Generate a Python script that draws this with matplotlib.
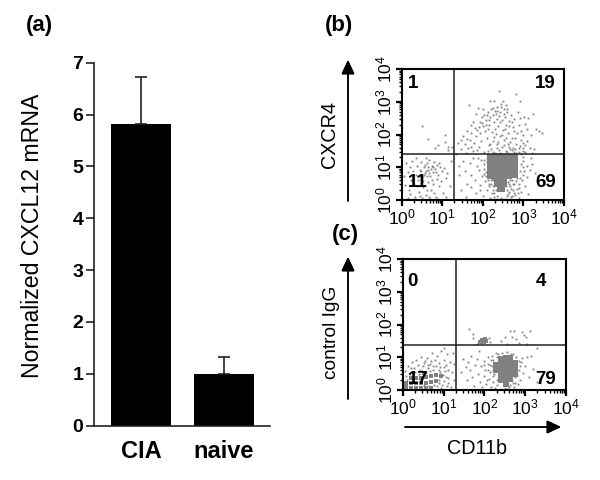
#!/usr/bin/env python3

# bar chart of CXCL12 mRNA plus two flow cytometry dot plots

import matplotlib.pyplot as plt
import numpy as np

plt.rcParams["font.family"] = ["Liberation Sans", "DejaVu Sans"]
plt.rcParams["mathtext.fontset"] = "custom"
plt.rcParams["mathtext.rm"] = "Liberation Sans"

W, H = 600, 480
color_dot = "#808080"

# panel (a)
categories = ["CIA", "naive"]
values = [5.82, 1.0]
errors = [0.90, 0.32]
bar_ticks = [0, 1, 2, 3, 4, 5, 6, 7]

# panel (b), dots as [log10 CD11b, log10 CXCR4]
b_upper = np.array([
    [0.49, 2.28], [0.66, 1.86], [0.82, 1.58], [0.90, 1.68], [1.07, 2.00], [1.15, 1.63], [1.15, 1.53],
    [1.07, 1.79], [1.23, 1.61], [1.34, 1.42], [1.38, 1.75], [1.45, 1.55], [1.47, 1.85], [1.52, 1.95],
    [1.55, 1.70], [1.58, 1.45], [1.60, 2.10], [1.63, 1.60], [1.66, 2.91], [1.68, 1.85], [1.70, 2.30],
    [1.72, 2.05], [1.75, 1.50], [1.78, 1.75], [1.80, 2.20], [1.82, 2.62], [1.84, 1.95], [1.86, 2.15],
    [1.88, 2.83], [1.90, 1.62], [1.92, 2.40], [1.94, 2.05], [1.96, 1.80], [1.98, 2.55], [2.00, 2.80],
    [2.00, 2.25], [2.02, 1.48], [2.04, 2.60], [2.06, 2.12], [2.08, 2.45], [2.10, 1.90], [2.12, 2.70],
    [2.14, 1.68], [2.15, 2.30], [2.17, 3.03], [2.18, 2.55], [2.20, 1.55], [2.22, 2.08], [2.24, 2.82],
    [2.25, 1.80], [2.27, 3.03], [2.28, 2.40], [2.30, 1.45], [2.32, 2.62], [2.33, 2.02], [2.35, 2.85],
    [2.36, 1.70], [2.38, 2.25], [2.39, 3.34], [2.40, 1.52], [2.42, 2.70], [2.43, 1.95], [2.45, 2.95],
    [2.46, 2.45], [2.48, 1.62], [2.50, 3.03], [2.50, 2.15], [2.52, 2.78], [2.53, 1.85], [2.55, 2.55],
    [2.57, 1.50], [2.58, 2.30], [2.60, 2.68], [2.62, 1.72], [2.63, 2.05], [2.65, 2.42], [2.67, 1.55],
    [2.70, 2.60], [2.72, 1.90], [2.74, 2.22], [2.76, 1.48], [2.78, 2.48], [2.81, 3.24], [2.82, 1.70],
    [2.84, 2.05], [2.86, 2.70], [2.88, 1.58], [2.90, 2.30], [2.91, 3.03], [2.93, 1.85], [2.95, 2.10],
    [2.98, 1.50], [3.00, 1.98], [3.02, 2.55], [3.05, 1.68], [3.08, 2.18], [3.10, 1.82], [3.12, 2.50],
    [3.15, 1.60], [3.18, 2.00], [3.20, 1.45], [3.23, 2.62], [3.26, 1.55], [3.32, 2.18], [3.38, 2.12],
    [3.45, 2.05], [2.40, 2.58], [2.30, 2.72], [2.20, 2.78], [2.10, 2.60], [2.60, 2.80], [2.55, 1.42],
    [2.70, 1.42], [2.82, 1.45], [2.95, 1.42], [3.05, 1.48], [2.75, 1.60], [2.65, 1.62], [2.45, 1.42],
    [2.25, 1.46], [2.35, 1.58], [2.42, 1.44], [2.52, 1.68], [2.60, 1.46], [2.72, 1.52], [2.80, 1.56],
    [2.88, 1.46], [2.92, 1.66], [3.00, 1.60], [2.12, 1.50], [2.18, 1.70], [2.28, 1.92], [2.38, 1.78],
    [2.46, 1.98], [2.58, 1.90], [2.68, 1.78], [2.80, 1.90], [2.98, 1.74], [1.70, 1.62], [1.85, 1.52],
    [2.08, 2.30], [2.16, 2.46], [2.26, 2.60], [2.34, 2.48], [2.42, 2.38], [2.52, 2.64], [2.64, 2.28],
    [2.72, 2.40], [2.35, 2.72], [2.44, 2.84], [2.56, 2.92], [1.98, 2.36], [1.76, 2.38], [1.62, 1.88],
    [2.92, 2.50], [3.05, 2.32], [2.78, 2.12], [2.55, 2.18], [2.30, 2.16], [2.12, 2.18], [1.90, 2.24],
])
b_lower_left = np.array([
    [0.05, 0.72], [0.08, 0.45], [0.10, 1.12], [0.15, 0.85], [0.18, 0.30], [0.20, 1.02], [0.22, 0.62],
    [0.25, 1.20], [0.28, 0.90], [0.30, 0.48], [0.32, 0.10], [0.35, 0.78], [0.38, 1.05], [0.40, 0.60],
    [0.42, 0.25], [0.45, 0.92], [0.48, 1.15], [0.50, 0.70], [0.52, 0.40], [0.55, 1.00], [0.58, 0.82],
    [0.60, 0.15], [0.62, 1.12], [0.64, 0.55], [0.66, 0.92], [0.68, 1.22], [0.70, 0.72], [0.72, 0.32],
    [0.74, 1.05], [0.76, 0.85], [0.78, 0.50], [0.80, 1.15], [0.82, 0.95], [0.84, 0.08], [0.86, 0.65],
    [0.88, 1.08], [0.90, 0.78], [0.92, 0.42], [0.95, 1.00], [0.98, 0.58], [1.00, 0.88], [1.02, 0.22],
    [1.05, 0.98], [1.08, 0.68], [1.12, 0.82], [1.18, 0.42], [1.22, 1.20], [0.50, 0.05], [0.70, 0.02],
    [0.90, 0.03], [0.30, 0.02], [1.10, 0.10], [0.60, 1.28], [0.35, 1.30], [0.58, 1.08], [0.65, 1.02],
    [0.72, 0.95], [0.68, 0.82], [0.78, 1.02], [0.60, 0.90], [0.55, 0.78], [0.48, 0.88], [0.42, 0.74],
    [0.62, 0.72], [0.75, 0.62], [0.85, 0.85], [0.92, 1.12], [0.52, 0.58], [0.38, 0.42], [0.28, 0.62],
    [0.20, 0.18], [0.62, 0.30], [0.80, 0.22], [0.68, 0.10], [0.15, 0.05], [0.45, 0.12],
])
b_lower_right = np.array([
    [1.40, 1.05], [1.42, 0.75], [1.45, 0.30], [1.50, 1.20], [1.55, 0.88], [1.58, 0.08], [1.62, 0.50],
    [1.68, 1.12], [1.72, 0.78], [1.75, 1.28], [1.80, 0.62], [1.82, 0.20], [1.85, 1.05], [1.90, 0.92],
    [1.92, 0.45], [1.95, 1.22], [1.98, 0.72], [2.00, 0.12], [2.02, 1.10], [2.05, 0.58], [2.08, 0.85],
    [2.10, 0.30], [2.12, 1.02], [2.15, 0.48], [2.18, 0.05], [2.20, 0.62], [2.22, 0.22], [2.25, 0.42],
    [2.28, 0.10], [2.30, 0.55], [2.32, 0.32], [2.35, 0.02], [2.62, 0.55], [2.65, 0.25], [2.68, 0.42],
    [2.70, 0.08], [2.72, 0.60], [2.75, 0.30], [2.78, 0.48], [2.80, 0.15], [2.82, 0.58], [2.85, 0.35],
    [2.88, 0.05], [2.90, 0.50], [2.92, 0.68], [2.95, 0.25], [2.98, 0.78], [3.00, 1.20], [3.02, 0.90],
    [3.05, 0.42], [3.08, 1.05], [3.10, 0.70], [3.12, 0.18], [3.15, 0.92], [3.18, 1.28], [3.22, 1.10],
    [3.28, 0.82], [2.10, 1.30], [1.70, 0.40], [2.55, 0.02], [2.45, 0.05], [2.60, 0.12], [2.02, 0.95],
    [2.04, 1.22], [2.08, 0.72], [2.10, 1.15], [2.12, 0.62], [2.14, 0.85], [2.16, 0.42], [2.18, 0.70],
    [2.20, 0.50], [2.24, 0.60], [2.26, 0.32], [2.28, 0.20], [2.32, 0.48], [2.34, 0.12], [2.58, 0.42],
    [2.60, 0.30], [2.62, 0.18], [2.64, 0.48], [2.66, 0.60], [2.70, 0.35], [2.74, 0.50], [2.76, 0.20],
    [2.84, 0.68], [2.90, 0.38], [2.92, 0.88], [2.94, 1.10], [2.96, 0.60], [2.98, 1.00], [3.00, 1.32],
    [2.04, 0.80], [1.88, 1.30], [1.92, 0.30], [2.86, 0.22], [2.72, 0.12],
])
# the solid part of the cloud, drawn with bigger squares
b_blob = np.array([
    [2.20, 0.78], [2.20, 0.98], [2.20, 1.18], [2.20, 1.30], [2.33, 0.72], [2.33, 0.92], [2.33, 1.12],
    [2.33, 1.30], [2.48, 0.72], [2.48, 0.92], [2.48, 1.12], [2.48, 1.30], [2.62, 0.78], [2.62, 0.98],
    [2.62, 1.18], [2.62, 1.30], [2.76, 0.80], [2.76, 1.00], [2.76, 1.18], [2.76, 1.30], [2.38, 0.52],
    [2.50, 0.52], [2.44, 0.36],
])

# panel (c), dots as [log10 CD11b, log10 control IgG]
c_upper = np.array([
    [1.62, 1.86], [1.72, 1.70], [1.72, 1.58], [1.82, 1.42], [1.90, 1.46], [2.12, 1.60], [2.15, 1.46],
    [2.40, 1.50], [2.50, 1.62], [2.55, 1.42], [2.62, 1.80], [2.68, 1.62], [2.72, 1.80], [2.78, 1.55],
    [2.85, 1.45], [2.92, 1.78], [2.98, 1.68], [3.02, 1.62], [3.12, 1.80], [3.05, 1.42], [3.30, 1.30],
])
c_small_blob = np.array([
    [1.90, 1.48], [1.95, 1.52], [1.98, 1.48], [2.02, 1.55], [2.05, 1.50],
])
c_lower_left = np.array([
    [0.05, 0.58], [0.10, 0.30], [0.12, 0.72], [0.18, 0.50], [0.22, 0.85], [0.28, 0.68], [0.32, 0.92],
    [0.38, 0.78], [0.42, 0.62], [0.45, 1.00], [0.50, 0.72], [0.55, 0.88], [0.60, 0.98], [0.62, 0.66],
    [0.68, 0.80], [0.72, 1.12], [0.75, 0.60], [0.78, 0.92], [0.82, 0.72], [0.85, 1.05], [0.90, 0.82],
    [0.92, 0.55], [0.95, 1.20], [1.00, 0.70], [1.02, 0.92], [1.05, 0.40], [1.08, 1.10], [1.10, 0.62],
    [1.12, 0.22], [1.15, 0.85], [1.18, 0.08], [1.20, 0.55], [1.22, 1.12], [1.25, 0.30], [1.25, 0.80],
    [1.02, 1.28], [0.85, 0.12], [0.95, 0.05], [1.08, 0.12], [0.90, 0.32], [0.40, 0.50], [0.48, 0.58],
    [0.56, 0.52], [0.66, 0.58], [0.74, 0.74], [0.88, 0.62], [0.98, 0.46], [1.04, 0.58], [0.30, 0.55],
    [0.20, 0.66], [0.08, 0.42], [1.10, 0.38], [1.00, 0.28], [0.88, 0.20], [0.76, 0.16], [0.64, 0.12],
    [0.52, 0.14], [0.96, 0.16], [0.62, 0.78], [0.52, 0.82], [0.70, 0.88], [0.92, 0.70], [1.06, 0.76],
])
c_left_blob = np.array([
    [0.08, 0.08], [0.08, 0.22], [0.20, 0.05], [0.20, 0.20], [0.20, 0.36], [0.33, 0.05], [0.33, 0.20],
    [0.33, 0.36], [0.45, 0.05], [0.45, 0.20], [0.45, 0.38], [0.58, 0.05], [0.58, 0.22], [0.58, 0.40],
    [0.70, 0.05], [0.70, 0.24], [0.70, 0.44], [0.82, 0.28], [0.82, 0.46], [0.95, 0.44], [0.52, 0.52],
])
c_lower_right = np.array([
    [1.42, 0.55], [1.48, 0.95], [1.55, 0.70], [1.58, 0.30], [1.60, 0.85], [1.65, 0.62], [1.68, 1.05],
    [1.70, 0.40], [1.75, 0.12], [1.78, 0.78], [1.82, 0.95], [1.85, 0.50], [1.88, 1.18], [1.90, 0.25],
    [1.92, 0.72], [1.95, 0.08], [1.98, 0.88], [2.00, 0.42], [2.02, 0.62], [2.05, 0.18], [2.08, 0.80],
    [2.10, 1.02], [2.12, 0.35], [2.14, 0.55], [2.16, 0.10], [2.18, 0.72], [2.20, 0.92], [2.22, 0.25],
    [2.24, 0.50], [2.26, 0.05], [2.28, 1.12], [2.30, 0.30], [2.32, 0.15], [2.62, 0.15], [2.65, 1.10],
    [2.68, 0.32], [2.72, 0.08], [2.75, 0.22], [2.78, 1.02], [2.80, 0.45], [2.84, 0.62], [2.88, 0.30],
    [2.90, 0.85], [2.92, 0.98], [2.95, 0.52], [3.00, 0.72], [3.05, 1.02], [3.10, 0.40], [3.15, 1.05],
    [3.20, 0.65], [3.30, 0.25], [2.40, 0.04], [2.50, 0.06], [2.55, 0.03], [2.14, 0.78], [2.16, 0.92],
    [2.18, 1.05], [2.20, 0.42], [2.22, 0.62], [2.30, 1.02], [2.34, 1.10], [2.44, 1.12], [2.56, 1.16],
    [2.70, 1.10], [2.84, 0.90], [2.88, 0.72], [2.74, 0.40], [2.70, 0.20], [2.60, 0.08], [2.82, 0.18],
    [2.06, 0.30], [2.10, 0.62], [2.00, 0.78],
])
c_right_blob = np.array([
    [2.28, 0.62], [2.28, 0.78], [2.40, 0.30], [2.40, 0.46], [2.40, 0.62], [2.40, 0.78], [2.40, 0.94],
    [2.52, 0.18], [2.52, 0.34], [2.52, 0.50], [2.52, 0.66], [2.52, 0.82], [2.52, 0.98], [2.64, 0.34],
    [2.64, 0.50], [2.64, 0.66], [2.64, 0.82], [2.64, 0.98], [2.76, 0.50], [2.76, 0.66], [2.76, 0.84],
])

decades = [0, 1, 2, 3, 4]


def axes_px(fig, left, top, right, bottom):
    """Add axes given by pixel edges, measured from the top left corner."""
    return fig.add_axes([left / W, 1 - bottom / H, (right - left) / W, (bottom - top) / H])


def fig_text(fig, x, y, s, **kwargs):
    """Put centered text at a pixel position."""
    fig.text(x / W, 1 - y / H, s, ha="center", va="center", **kwargs)


def fig_arrow(fig, start, end):
    """Draw an arrow between two pixel positions."""
    fig.add_artist(
        plt.annotate(
            "",
            xy=(end[0] / W, 1 - end[1] / H),
            xytext=(start[0] / W, 1 - start[1] / H),
            xycoords="figure fraction",
            textcoords="figure fraction",
            arrowprops=dict(arrowstyle="-|>,head_length=0.85,head_width=0.4", color="k", lw=1.1,
                            shrinkA=0, shrinkB=0),
        )
    )


def plot_bars(ax):
    """Draw panel (a)."""
    ax.bar(range(len(values)), values, width=0.72, color="k")
    ax.errorbar(range(len(values)), values, yerr=[[0, 0], errors], fmt="none", ecolor="#222222",
                elinewidth=1.2, capsize=4.5, capthick=1.2)
    ax.set_xlim(-0.566, 1.554)
    ax.set_ylim(0, 7)
    ax.set_yticks(bar_ticks)
    ax.set_xticks(range(len(categories)), categories)
    for side in "top", "right":
        ax.spines[side].set_visible(False)
    for side in "left", "bottom":
        ax.spines[side].set_linewidth(1.2)
        ax.spines[side].set_color("#222222")
    ax.tick_params(axis="y", length=5.8, width=1.2, color="#222222", pad=2, labelsize=14)
    ax.tick_params(axis="x", length=0, pad=10, labelsize=17)
    for label in ax.get_xticklabels() + ax.get_yticklabels():
        label.set_fontweight("bold")


def plot_dots(ax, sparse, blobs, gate_x, gate_y, numbers):
    """Draw one flow cytometry panel."""
    for dots in sparse:
        ax.plot(10 ** dots[:, 0], 10 ** dots[:, 1], "s", color=color_dot, ms=1.3, mew=0, clip_on=False)
    for dots, size in blobs:
        ax.plot(10 ** dots[:, 0], 10 ** dots[:, 1], "s", color=color_dot, ms=size, mew=0)

    ax.set_xscale("log")
    ax.set_yscale("log")
    ax.set_xlim(1, 1e4)
    ax.set_ylim(1, 1e4)
    ax.axvline(10**gate_x, color="#222222", lw=1.1)
    ax.axhline(10**gate_y, color="#222222", lw=1.1)

    ticks = [10**d for d in decades]
    labels = [rf"$\mathrm{{10^{{{d}}}}}$" for d in decades]
    ax.set_xticks(ticks, labels)
    ax.set_yticks(ticks, labels, rotation=90, va="center")
    minor = [m * 10**d for d in decades[:-1] for m in range(2, 10)]
    ax.set_xticks(minor, minor=True)
    ax.set_yticks(minor, minor=True)
    ax.tick_params(which="minor", labelbottom=False, labelleft=False, length=2.5, width=1)
    ax.tick_params(which="major", length=4, width=1.6, pad=1.5, labelsize=12.5)
    for spine in ax.spines.values():
        spine.set_linewidth(1.5)

    for (x, y), s in numbers:
        ax.text(10**x, 10**y, s, fontsize=13.5, fontweight="bold", ha="center", va="center")


def main():
    """Build the figure and save it."""
    fig = plt.figure(figsize=[W / 100, H / 100], dpi=100)

    plot_bars(axes_px(fig, 94, 62.7, 270, 425.7))
    plot_dots(
        axes_px(fig, 401.7, 69.3, 564, 200),
        [b_upper, b_lower_left, b_lower_right],
        [(b_blob, 5.2)],
        1.295,
        1.40,
        [((0.27, 3.58), "1"), ((3.55, 3.58), "19"), ((0.40, 0.55), "11"), ((3.55, 0.55), "69")],
    )
    plot_dots(
        axes_px(fig, 402.7, 259.3, 566, 390),
        [c_upper, c_lower_left, c_lower_right],
        [(c_small_blob, 2.5), (c_left_blob, 3.3), (c_right_blob, 3.8)],
        1.31,
        1.38,
        [((0.25, 3.33), "0"), ((3.38, 3.33), "4"), ((0.38, 0.33), "17"), ((3.51, 0.33), "79")],
    )

    fig_text(fig, 33, 236, "Normalized CXCL12 mRNA", rotation=90, fontsize=16.7)
    fig_text(fig, 329, 135, "CXCR4", rotation=90, fontsize=14.2)
    fig_text(fig, 331, 332, "control IgG", rotation=90, fontsize=13.8)
    fig_text(fig, 477, 448, "CD11b", fontsize=14.2)

    fig_text(fig, 39, 25, "(a)", fontsize=16, fontweight="bold")
    fig_text(fig, 339, 25, "(b)", fontsize=16, fontweight="bold")
    fig_text(fig, 345, 234, "(c)", fontsize=16, fontweight="bold")

    fig_arrow(fig, (348, 201), (348, 60))
    fig_arrow(fig, (348, 399), (348, 257))
    fig_arrow(fig, (405, 427), (561, 427))

    fig.savefig("out.png", dpi=100)


if __name__ == "__main__":
    main()
